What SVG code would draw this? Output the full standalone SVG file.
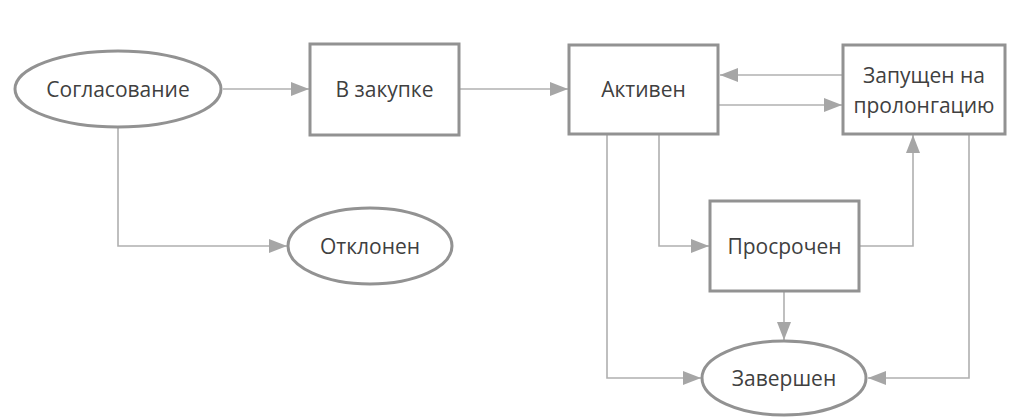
<svg xmlns="http://www.w3.org/2000/svg" width="1024" height="419" viewBox="0 0 1024 419">
<defs>
<marker id="arr" viewBox="0 0 18 14" refX="18" refY="7" markerWidth="18" markerHeight="14" markerUnits="userSpaceOnUse" orient="auto">
<path d="M0,0 L18,7 L0,14 Z" fill="#a6a6a6"/>
</marker>
</defs>
<style>
.shape{fill:#fff;stroke:#929292;stroke-width:3}
.lbl{font-family:"Open Sans","Noto Sans",sans-serif;font-size:21px;fill:#404040;text-anchor:middle;dominant-baseline:central}
.conn{fill:none;stroke:#b0b0b0;stroke-width:1.6;marker-end:url(#arr)}
</style>
<rect width="1024" height="419" fill="#fff"/>
<g id="connectors">
<path class="conn" d="M223,89 H309"/>
<path class="conn" d="M459,89 H568"/>
<path class="conn" d="M843,75 H720"/>
<path class="conn" d="M718,105 H842"/>
<path class="conn" d="M118,127 V246 H287"/>
<path class="conn" d="M607,134 V378 H701"/>
<path class="conn" d="M659,134 V246 H709"/>
<path class="conn" d="M859,246 H913 V135"/>
<path class="conn" d="M784,291 V340"/>
<path class="conn" d="M969,134 V378 H868"/>
</g>
<g id="n-soglasovanie">
<ellipse class="shape" cx="118" cy="89" rx="103" ry="38"/>
<text class="lbl" x="118" y="89">Согласование</text>
</g>
<g id="n-v-zakupke">
<rect class="shape" x="310" y="44" width="149" height="91"/>
<text class="lbl" x="384.5" y="89">В закупке</text>
</g>
<g id="n-aktiven">
<rect class="shape" x="569" y="45" width="149" height="89"/>
<text class="lbl" x="643.5" y="89">Активен</text>
</g>
<g id="n-zapushen">
<rect class="shape" x="843" y="45" width="162" height="89"/>
<text class="lbl" x="924" y="75">Запущен на</text>
<text class="lbl" x="924" y="105">пролонгацию</text>
</g>
<g id="n-otklonen">
<ellipse class="shape" cx="370" cy="246" rx="82" ry="38"/>
<text class="lbl" x="370" y="246">Отклонен</text>
</g>
<g id="n-prosrochen">
<rect class="shape" x="710" y="201" width="149" height="90"/>
<text class="lbl" x="784.5" y="246">Просрочен</text>
</g>
<g id="n-zavershen">
<ellipse class="shape" cx="784" cy="378" rx="82" ry="37"/>
<text class="lbl" x="784" y="378">Завершен</text>
</g>
</svg>
